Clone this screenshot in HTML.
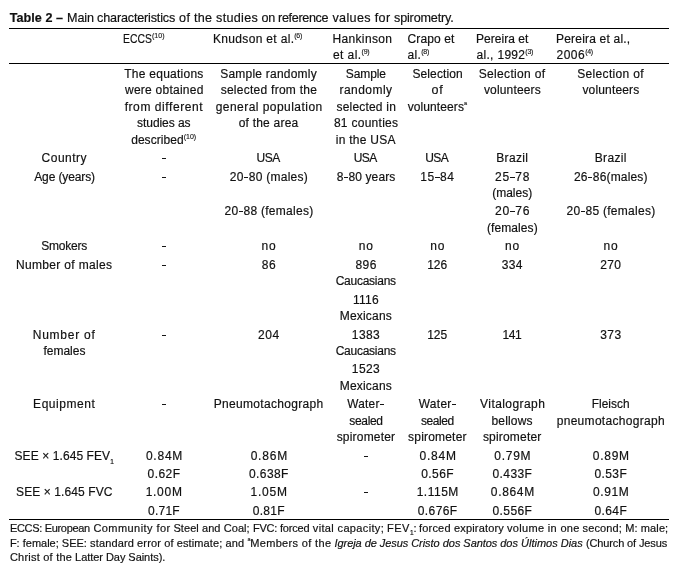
<!DOCTYPE html>
<html>
<head>
<meta charset="utf-8">
<title>Table 2</title>
<style>
html,body{margin:0;padding:0;background:#fff;}
body{width:688px;height:579px;overflow:hidden;position:relative;font-family:"Liberation Sans",sans-serif;color:#111;font-size:12px;line-height:14px;filter:grayscale(1);-webkit-text-stroke:0.18px #111;}
.rule{position:absolute;left:9px;width:660px;height:1px;background:#000;}
.l{position:absolute;white-space:nowrap;height:14px;}
.c{width:160px;text-align:center;}
.w,.m{display:inline-block;}
.t{font-size:12.6px;line-height:14px;}
.f{font-size:11px;line-height:13px;}
.wd{position:absolute;top:0;}
sup{font-size:7px;line-height:0;vertical-align:5px;letter-spacing:-0.28px;-webkit-text-stroke:0.12px #151515;}
sup.w2{letter-spacing:0;}
.d{display:inline-block;width:4px;height:1px;background:#151515;vertical-align:3px;}
.e{margin:0 0.4px;width:4.4px;}
sup.a{font-size:5.5px;vertical-align:6.2px;}
sub{font-size:6.5px;line-height:0;vertical-align:-4.4px;letter-spacing:0;}
.f sub{vertical-align:-3.4px;}
</style>
</head>
<body>
<div class="l t" style="top:11px;left:9.65px"><span class="w" id="w_t_b"><span class="m" id="t_b" style="letter-spacing:0.056px"><b>Table 2 –</b></span></span></div>
<div class="l t" style="top:11px;left:0"><span class="wd" style="left:67.10px;letter-spacing:-0.164px;">Main characteristics</span><span class="wd" style="left:179.10px;letter-spacing:0.287px;">of the studies</span><span class="wd" style="left:261.60px;letter-spacing:-0.341px;">on reference</span><span class="wd" style="left:332.40px;letter-spacing:0.353px;">values for</span><span class="wd" style="left:394.00px;letter-spacing:-0.166px;">spirometry.</span></div>
<div class="rule" style="top:28px"></div>
<div class="rule" style="top:63px"></div>
<div class="rule" style="top:519px"></div>
<div class="l" style="top:32px;left:123.18px"><span class="w" id="w_h_1_0"><span class="m" id="h_1_0" style="transform:scaleX(0.865);transform-origin:0 50%;margin-right:-4.50px;letter-spacing:0.000px">ECCS</span><sup class=w2>(10)</sup></span></div>
<div class="l" style="top:32px;left:213.00px"><span class="w" id="w_h_2_0"><span class="m" id="h_2_0" style="letter-spacing:0.327px">Knudson et al.</span><sup>(6)</sup></span></div>
<div class="l" style="top:32px;left:332.40px"><span class="w" id="w_h_3_0"><span class="m" id="h_3_0" style="letter-spacing:0.362px">Hankinson</span></span></div>
<div class="l" style="top:48px;left:332.90px"><span class="w" id="w_h_3_1"><span class="m" id="h_3_1" style="letter-spacing:0.450px">et al.</span><sup>(9)</sup></span></div>
<div class="l" style="top:32px;left:407.50px"><span class="w" id="w_h_4_0"><span class="m" id="h_4_0" style="letter-spacing:0.107px">Crapo et</span></span></div>
<div class="l" style="top:48px;left:407.50px"><span class="w" id="w_h_4_1"><span class="m" id="h_4_1" style="letter-spacing:0.375px">al.</span><sup>(8)</sup></span></div>
<div class="l" style="top:32px;left:476.00px"><span class="w" id="w_h_5_0"><span class="m" id="h_5_0" style="letter-spacing:0.028px">Pereira et</span></span></div>
<div class="l" style="top:48px;left:476.50px"><span class="w" id="w_h_5_1"><span class="m" id="h_5_1" style="letter-spacing:0.312px">al., 1992</span><sup>(3)</sup></span></div>
<div class="l" style="top:32px;left:556.00px"><span class="w" id="w_h_6_0"><span class="m" id="h_6_0" style="letter-spacing:0.196px">Pereira et al.,</span></span></div>
<div class="l" style="top:48px;left:556.50px"><span class="w" id="w_h_6_1"><span class="m" id="h_6_1" style="letter-spacing:0.500px">2006</span><sup>(4)</sup></span></div>
<div class="l c" style="top:67px;left:83.93px"><span class="w" id="w_r0_1_0"><span class="m" id="r0_1_0" style="letter-spacing:0.250px">The equations</span></span></div>
<div class="l c" style="top:83px;left:84.30px"><span class="w" id="w_r0_1_1"><span class="m" id="r0_1_1" style="letter-spacing:0.250px">were obtained</span></span></div>
<div class="l c" style="top:100px;left:83.93px"><span class="w" id="w_r0_1_2"><span class="m" id="r0_1_2" style="letter-spacing:0.577px">from different</span></span></div>
<div class="l c" style="top:116px;left:83.80px"><span class="w" id="w_r0_1_3"><span class="m" id="r0_1_3" style="letter-spacing:-0.056px">studies as</span></span></div>
<div class="l c" style="top:133px;left:83.68px"><span class="w" id="w_r0_1_4"><span class="m" id="r0_1_4" style="letter-spacing:0.062px">described</span><sup class=w2>(10)</sup></span></div>
<div class="l c" style="top:67px;left:188.57px"><span class="w" id="w_r0_2_0"><span class="m" id="r0_2_0" style="letter-spacing:0.214px">Sample randomly</span></span></div>
<div class="l c" style="top:83px;left:188.95px"><span class="w" id="w_r0_2_1"><span class="m" id="r0_2_1" style="letter-spacing:0.265px">selected from the</span></span></div>
<div class="l c" style="top:100px;left:189.20px"><span class="w" id="w_r0_2_2"><span class="m" id="r0_2_2" style="letter-spacing:0.456px">general population</span></span></div>
<div class="l c" style="top:116px;left:188.57px"><span class="w" id="w_r0_2_3"><span class="m" id="r0_2_3" style="letter-spacing:0.225px">of the area</span></span></div>
<div class="l c" style="top:67px;left:285.88px"><span class="w" id="w_r0_3_0"><span class="m" id="r0_3_0" style="letter-spacing:-0.100px">Sample</span></span></div>
<div class="l c" style="top:83px;left:286.00px"><span class="w" id="w_r0_3_1"><span class="m" id="r0_3_1" style="letter-spacing:0.464px">randomly</span></span></div>
<div class="l c" style="top:100px;left:286.25px"><span class="w" id="w_r0_3_2"><span class="m" id="r0_3_2" style="letter-spacing:0.200px">selected in</span></span></div>
<div class="l c" style="top:116px;left:286.12px"><span class="w" id="w_r0_3_3"><span class="m" id="r0_3_3" style="letter-spacing:0.275px">81 counties</span></span></div>
<div class="l c" style="top:133px;left:285.75px"><span class="w" id="w_r0_3_4"><span class="m" id="r0_3_4" style="letter-spacing:0.250px">in the USA</span></span></div>
<div class="l c" style="top:67px;left:357.65px"><span class="w" id="w_r0_4_0"><span class="m" id="r0_4_0" style="letter-spacing:0.125px">Selection</span></span></div>
<div class="l c" style="top:83px;left:357.52px"><span class="w" id="w_r0_4_1"><span class="m" id="r0_4_1" style="font-size:12.54px;letter-spacing:0.800px">of</span></span></div>
<div class="l c" style="top:100px;left:357.27px"><span class="w" id="w_r0_4_2"><span class="m" id="r0_4_2" style="letter-spacing:0.083px">volunteers</span><sup class=a>a</sup></span></div>
<div class="l c" style="top:67px;left:432.08px"><span class="w" id="w_r0_5_0"><span class="m" id="r0_5_0" style="letter-spacing:0.341px">Selection of</span></span></div>
<div class="l c" style="top:83px;left:432.45px"><span class="w" id="w_r0_5_1"><span class="m" id="r0_5_1" style="letter-spacing:0.167px">volunteers</span></span></div>
<div class="l c" style="top:67px;left:530.58px"><span class="w" id="w_r0_6_0"><span class="m" id="r0_6_0" style="letter-spacing:0.341px">Selection of</span></span></div>
<div class="l c" style="top:83px;left:530.95px"><span class="w" id="w_r0_6_1"><span class="m" id="r0_6_1" style="letter-spacing:0.167px">volunteers</span></span></div>
<div class="l c" style="top:151px;left:-15.70px"><span class="w" id="w_r1_0_0"><span class="m" id="r1_0_0" style="letter-spacing:0.500px">Country</span></span></div>
<div class="l" style="top:151px;left:162px"><span class="d"></span></div>
<div class="l c" style="top:151px;left:188.07px"><span class="w" id="w_r1_2_0"><span class="m" id="r1_2_0" style="letter-spacing:-0.500px">USA</span></span></div>
<div class="l c" style="top:151px;left:285.25px"><span class="w" id="w_r1_3_0"><span class="m" id="r1_3_0" style="letter-spacing:-0.500px">USA</span></span></div>
<div class="l c" style="top:151px;left:356.77px"><span class="w" id="w_r1_4_0"><span class="m" id="r1_4_0" style="letter-spacing:-0.500px">USA</span></span></div>
<div class="l c" style="top:151px;left:432.33px"><span class="w" id="w_r1_5_0"><span class="m" id="r1_5_0" style="letter-spacing:0.350px">Brazil</span></span></div>
<div class="l c" style="top:151px;left:530.83px"><span class="w" id="w_r1_6_0"><span class="m" id="r1_6_0" style="letter-spacing:0.350px">Brazil</span></span></div>
<div class="l c" style="top:170px;left:-15.45px"><span class="w" id="w_r2_0_0"><span class="m" id="r2_0_0" style="letter-spacing:-0.125px">Age (years)</span></span></div>
<div class="l" style="top:170px;left:162px"><span class="d"></span></div>
<div class="l c" style="top:170px;left:188.95px"><span class="w" id="w_r2_2_0"><span class="m" id="r2_2_0" style="letter-spacing:0.250px">20<span class="d e"></span>80 (males)</span></span></div>
<div class="l c" style="top:170px;left:286.00px"><span class="w" id="w_r2_3_0"><span class="m" id="r2_3_0" style="letter-spacing:0.083px">8<span class="d e"></span>80 years</span></span></div>
<div class="l c" style="top:170px;left:357.40px"><span class="w" id="w_r2_4_0"><span class="m" id="r2_4_0" style="letter-spacing:0.562px">15<span class="d e"></span>84</span></span></div>
<div class="l c" style="top:170px;left:432.58px"><span class="w" id="w_r2_5_0"><span class="m" id="r2_5_0" style="letter-spacing:0.800px">25<span class="d e"></span>78</span></span></div>
<div class="l c" style="top:186px;left:432.20px"><span class="w" id="w_r2_5_1"><span class="m" id="r2_5_1" style="letter-spacing:-0.000px">(males)</span></span></div>
<div class="l c" style="top:170px;left:530.83px"><span class="w" id="w_r2_6_0"><span class="m" id="r2_6_0" style="letter-spacing:0.159px">26<span class="d e"></span>86(males)</span></span></div>
<div class="l c" style="top:204px;left:188.95px"><span class="w" id="w_r3_2_0"><span class="m" id="r3_2_0" style="letter-spacing:0.268px">20<span class="d e"></span>88 (females)</span></span></div>
<div class="l c" style="top:204px;left:432.58px"><span class="w" id="w_r3_5_0"><span class="m" id="r3_5_0" style="font-size:12.15px;letter-spacing:0.800px">20<span class="d e"></span>76</span></span></div>
<div class="l c" style="top:221px;left:432.33px"><span class="w" id="w_r3_5_1"><span class="m" id="r3_5_1" style="letter-spacing:0.087px">(females)</span></span></div>
<div class="l c" style="top:204px;left:530.95px"><span class="w" id="w_r3_6_0"><span class="m" id="r3_6_0" style="letter-spacing:0.268px">20<span class="d e"></span>85 (females)</span></span></div>
<div class="l c" style="top:239px;left:-15.83px"><span class="w" id="w_r4_0_0"><span class="m" id="r4_0_0" style="letter-spacing:-0.208px">Smokers</span></span></div>
<div class="l" style="top:239px;left:162px"><span class="d"></span></div>
<div class="l c" style="top:239px;left:188.95px"><span class="w" id="w_r4_2_0"><span class="m" id="r4_2_0" style="letter-spacing:0.750px">no</span></span></div>
<div class="l c" style="top:239px;left:286.25px"><span class="w" id="w_r4_3_0"><span class="m" id="r4_3_0" style="letter-spacing:0.750px">no</span></span></div>
<div class="l c" style="top:239px;left:357.65px"><span class="w" id="w_r4_4_0"><span class="m" id="r4_4_0" style="letter-spacing:0.750px">no</span></span></div>
<div class="l c" style="top:239px;left:432.45px"><span class="w" id="w_r4_5_0"><span class="m" id="r4_5_0" style="letter-spacing:0.750px">no</span></span></div>
<div class="l c" style="top:239px;left:530.95px"><span class="w" id="w_r4_6_0"><span class="m" id="r4_6_0" style="letter-spacing:0.750px">no</span></span></div>
<div class="l c" style="top:258px;left:-15.83px"><span class="w" id="w_r5_0_0"><span class="m" id="r5_0_0" style="letter-spacing:0.339px">Number of males</span></span></div>
<div class="l" style="top:258px;left:162px"><span class="d"></span></div>
<div class="l c" style="top:258px;left:189.07px"><span class="w" id="w_r5_2_0"><span class="m" id="r5_2_0" style="letter-spacing:0.750px">86</span></span></div>
<div class="l c" style="top:258px;left:286.12px"><span class="w" id="w_r5_3_0"><span class="m" id="r5_3_0" style="letter-spacing:0.375px">896</span></span></div>
<div class="l c" style="top:274px;left:285.75px"><span class="w" id="w_r5_3_1"><span class="m" id="r5_3_1" style="letter-spacing:-0.250px">Caucasians</span></span></div>
<div class="l c" style="top:258px;left:357.15px"><span class="w" id="w_r5_4_0"><span class="m" id="r5_4_0" style="letter-spacing:0.000px">126</span></span></div>
<div class="l c" style="top:258px;left:432.33px"><span class="w" id="w_r5_5_0"><span class="m" id="r5_5_0" style="letter-spacing:0.375px">334</span></span></div>
<div class="l c" style="top:258px;left:530.83px"><span class="w" id="w_r5_6_0"><span class="m" id="r5_6_0" style="letter-spacing:0.375px">270</span></span></div>
<div class="l c" style="top:293px;left:286.00px"><span class="w" id="w_r6_3_0"><span class="m" id="r6_3_0" style="letter-spacing:0.318px">1116</span></span></div>
<div class="l c" style="top:309px;left:285.88px"><span class="w" id="w_r6_3_1"><span class="m" id="r6_3_1" style="letter-spacing:0.214px">Mexicans</span></span></div>
<div class="l c" style="top:328px;left:-15.83px"><span class="w" id="w_r7_0_0"><span class="m" id="r7_0_0" style="letter-spacing:0.750px">Number of</span></span></div>
<div class="l c" style="top:344px;left:-15.58px"><span class="w" id="w_r7_0_1"><span class="m" id="r7_0_1" style="letter-spacing:0.000px">females</span></span></div>
<div class="l" style="top:328px;left:162px"><span class="d"></span></div>
<div class="l c" style="top:328px;left:188.95px"><span class="w" id="w_r7_2_0"><span class="m" id="r7_2_0" style="letter-spacing:0.625px">204</span></span></div>
<div class="l c" style="top:328px;left:286.00px"><span class="w" id="w_r7_3_0"><span class="m" id="r7_3_0" style="letter-spacing:0.417px">1383</span></span></div>
<div class="l c" style="top:344px;left:285.75px"><span class="w" id="w_r7_3_1"><span class="m" id="r7_3_1" style="letter-spacing:-0.250px">Caucasians</span></span></div>
<div class="l c" style="top:328px;left:357.15px"><span class="w" id="w_r7_4_0"><span class="m" id="r7_4_0" style="letter-spacing:0.000px">125</span></span></div>
<div class="l c" style="top:328px;left:431.83px"><span class="w" id="w_r7_5_0"><span class="m" id="r7_5_0" style="letter-spacing:-0.475px">141</span></span></div>
<div class="l c" style="top:328px;left:530.95px"><span class="w" id="w_r7_6_0"><span class="m" id="r7_6_0" style="letter-spacing:0.500px">373</span></span></div>
<div class="l c" style="top:362px;left:286.00px"><span class="w" id="w_r8_3_0"><span class="m" id="r8_3_0" style="letter-spacing:0.417px">1523</span></span></div>
<div class="l c" style="top:379px;left:285.88px"><span class="w" id="w_r8_3_1"><span class="m" id="r8_3_1" style="letter-spacing:0.214px">Mexicans</span></span></div>
<div class="l c" style="top:397px;left:-15.83px"><span class="w" id="w_r9_0_0"><span class="m" id="r9_0_0" style="letter-spacing:0.531px">Equipment</span></span></div>
<div class="l" style="top:397px;left:162px"><span class="d"></span></div>
<div class="l c" style="top:397px;left:188.70px"><span class="w" id="w_r9_2_0"><span class="m" id="r9_2_0" style="letter-spacing:0.317px">Pneumotachograph</span></span></div>
<div class="l c" style="top:397px;left:286.00px"><span class="w" id="w_r9_3_0"><span class="m" id="r9_3_0" style="font-size:11.85px;letter-spacing:0.250px">Water<span class="d e"></span></span></span></div>
<div class="l c" style="top:414px;left:286.00px"><span class="w" id="w_r9_3_1"><span class="m" id="r9_3_1" style="letter-spacing:-0.350px">sealed</span></span></div>
<div class="l c" style="top:430px;left:286.00px"><span class="w" id="w_r9_3_2"><span class="m" id="r9_3_2" style="letter-spacing:0.195px">spirometer</span></span></div>
<div class="l c" style="top:397px;left:357.75px"><span class="w" id="w_r9_4_0"><span class="m" id="r9_4_0" style="font-size:11.92px;letter-spacing:0.350px">Water<span class="d e"></span></span></span></div>
<div class="l c" style="top:414px;left:357.40px"><span class="w" id="w_r9_4_1"><span class="m" id="r9_4_1" style="letter-spacing:-0.400px">sealed</span></span></div>
<div class="l c" style="top:430px;left:357.40px"><span class="w" id="w_r9_4_2"><span class="m" id="r9_4_2" style="letter-spacing:0.194px">spirometer</span></span></div>
<div class="l c" style="top:397px;left:432.70px"><span class="w" id="w_r9_5_0"><span class="m" id="r9_5_0" style="letter-spacing:0.430px">Vitalograph</span></span></div>
<div class="l c" style="top:414px;left:432.08px"><span class="w" id="w_r9_5_1"><span class="m" id="r9_5_1" style="letter-spacing:0.184px">bellows</span></span></div>
<div class="l c" style="top:430px;left:432.20px"><span class="w" id="w_r9_5_2"><span class="m" id="r9_5_2" style="letter-spacing:0.194px">spirometer</span></span></div>
<div class="l c" style="top:397px;left:530.70px"><span class="w" id="w_r9_6_0"><span class="m" id="r9_6_0" style="font-size:11.89px;letter-spacing:0.058px">Fleisch</span></span></div>
<div class="l c" style="top:414px;left:530.83px"><span class="w" id="w_r9_6_1"><span class="m" id="r9_6_1" style="letter-spacing:0.306px">pneumotachograph</span></span></div>
<div class="l c" style="top:449px;left:-15.83px"><span class="w" id="w_r10_0_0"><span class="m" id="r10_0_0" style="letter-spacing:0.089px">SEE × 1.645 FEV</span><sub>1</sub></span></div>
<div class="l c" style="top:449px;left:84.55px"><span class="w" id="w_r10_1_0"><span class="m" id="r10_1_0" style="letter-spacing:0.774px">0.84M</span></span></div>
<div class="l c" style="top:449px;left:189.32px"><span class="w" id="w_r10_2_0"><span class="m" id="r10_2_0" style="letter-spacing:0.800px">0.86M</span></span></div>
<div class="l" style="top:449px;left:364px"><span class="d"></span></div>
<div class="l c" style="top:449px;left:358.15px"><span class="w" id="w_r10_4_0"><span class="m" id="r10_4_0" style="letter-spacing:0.774px">0.84M</span></span></div>
<div class="l c" style="top:449px;left:432.83px"><span class="w" id="w_r10_5_0"><span class="m" id="r10_5_0" style="letter-spacing:0.739px">0.79M</span></span></div>
<div class="l c" style="top:449px;left:531.33px"><span class="w" id="w_r10_6_0"><span class="m" id="r10_6_0" style="letter-spacing:0.739px">0.89M</span></span></div>
<div class="l c" style="top:467px;left:84.05px"><span class="w" id="w_r11_1_0"><span class="m" id="r11_1_0" style="letter-spacing:0.475px">0.62F</span></span></div>
<div class="l c" style="top:467px;left:188.95px"><span class="w" id="w_r11_2_0"><span class="m" id="r11_2_0" style="letter-spacing:0.400px">0.638F</span></span></div>
<div class="l c" style="top:467px;left:357.65px"><span class="w" id="w_r11_4_0"><span class="m" id="r11_4_0" style="letter-spacing:0.438px">0.56F</span></span></div>
<div class="l c" style="top:467px;left:432.45px"><span class="w" id="w_r11_5_0"><span class="m" id="r11_5_0" style="letter-spacing:0.400px">0.433F</span></span></div>
<div class="l c" style="top:467px;left:530.83px"><span class="w" id="w_r11_6_0"><span class="m" id="r11_6_0" style="letter-spacing:0.387px">0.53F</span></span></div>
<div class="l c" style="top:485px;left:-15.70px"><span class="w" id="w_r12_0_0"><span class="m" id="r12_0_0" style="letter-spacing:0.089px">SEE × 1.645 FVC</span></span></div>
<div class="l c" style="top:485px;left:84.18px"><span class="w" id="w_r12_1_0"><span class="m" id="r12_1_0" style="letter-spacing:0.738px">1.00M</span></span></div>
<div class="l c" style="top:485px;left:189.20px"><span class="w" id="w_r12_2_0"><span class="m" id="r12_2_0" style="letter-spacing:0.800px">1.05M</span></span></div>
<div class="l" style="top:485px;left:364px"><span class="d"></span></div>
<div class="l c" style="top:485px;left:357.77px"><span class="w" id="w_r12_4_0"><span class="m" id="r12_4_0" style="letter-spacing:0.500px">1.115M</span></span></div>
<div class="l c" style="top:485px;left:432.83px"><span class="w" id="w_r12_5_0"><span class="m" id="r12_5_0" style="letter-spacing:0.650px">0.864M</span></span></div>
<div class="l c" style="top:485px;left:531.20px"><span class="w" id="w_r12_6_0"><span class="m" id="r12_6_0" style="letter-spacing:0.625px">0.91M</span></span></div>
<div class="l c" style="top:504px;left:83.93px"><span class="w" id="w_r13_1_0"><span class="m" id="r13_1_0" style="letter-spacing:0.249px">0.71F</span></span></div>
<div class="l c" style="top:504px;left:188.82px"><span class="w" id="w_r13_2_0"><span class="m" id="r13_2_0" style="letter-spacing:0.312px">0.81F</span></span></div>
<div class="l c" style="top:504px;left:357.65px"><span class="w" id="w_r13_4_0"><span class="m" id="r13_4_0" style="letter-spacing:0.400px">0.676F</span></span></div>
<div class="l c" style="top:504px;left:432.45px"><span class="w" id="w_r13_5_0"><span class="m" id="r13_5_0" style="letter-spacing:0.400px">0.556F</span></span></div>
<div class="l c" style="top:504px;left:530.83px"><span class="w" id="w_r13_6_0"><span class="m" id="r13_6_0" style="letter-spacing:0.387px">0.64F</span></span></div>
<div class="l f" style="top:522px;left:0"><span class="wd" style="left:9.90px;letter-spacing:-0.313px;">ECCS: European</span><span class="wd" style="left:93.40px;letter-spacing:0.442px;">Community for</span><span class="wd" style="left:173.40px;letter-spacing:0.076px;">Steel and Coal;</span><span class="wd" style="left:252.90px;letter-spacing:-0.198px;">FVC: forced</span><span class="wd" style="left:312.80px;letter-spacing:0.353px;">vital capacity;</span><span class="wd" style="left:387.00px;letter-spacing:0.522px;">FEV<sub>1</sub>:</span><span class="wd" style="left:419.10px;letter-spacing:0.172px;">forced expiratory</span><span class="wd" style="left:507.00px;letter-spacing:0.327px;">volume in one</span><span class="wd" style="left:582.60px;letter-spacing:0.122px;">second; M: male;</span></div>
<div class="l f" style="top:537px;left:0"><span class="wd" style="left:9.90px;letter-spacing:-0.004px;">F: female; SEE:</span><span class="wd" style="left:90.10px;letter-spacing:0.128px;">standard error of</span><span class="wd" style="left:176.70px;letter-spacing:0.120px;">estimate; and</span><span class="wd" style="left:247.40px;letter-spacing:0.347px;"><sup class=a>a</sup>Members of the</span><span class="wd" style="left:334.50px;letter-spacing:-0.060px;font-style:italic;">Igreja de Jesus Cristo</span><span class="wd" style="left:442.80px;letter-spacing:-0.057px;font-style:italic;">dos Santos dos</span><span class="wd" style="left:521.10px;letter-spacing:-0.010px;font-style:italic;">Últimos Dias</span><span class="wd" style="left:585.90px;letter-spacing:-0.124px;">(Church of Jesus</span></div>
<div class="l f" style="top:551px;left:0"><span class="wd" style="left:9.90px;letter-spacing:0.226px;">Christ of the</span><span class="wd" style="left:75.10px;letter-spacing:-0.049px;">Latter Day Saints).</span></div>
</body>
</html>
